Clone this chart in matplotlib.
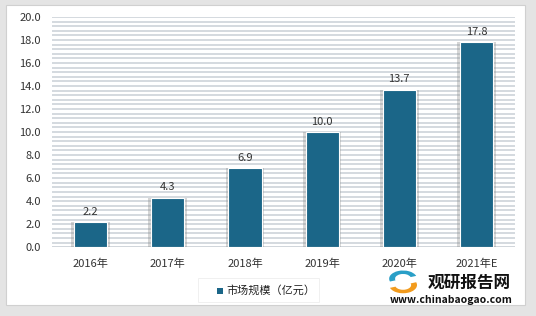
import matplotlib.pyplot as plt
import numpy as np
from matplotlib.patches import Rectangle, Wedge

plt.rcParams['font.family'] = ['Noto Sans CJK SC', 'DejaVu Sans']

years = ['2016年', '2017年', '2018年', '2019年', '2020年', '2021年E']
market_size = [2.2, 4.3, 6.9, 10.0, 13.7, 17.8]
yticks = [0, 2, 4, 6, 8, 10, 12, 14, 16, 18, 20]
series_name = '市场规模（亿元）'

bar_color = '#1b6688'

fig = plt.figure(figsize=(5.36, 3.16), dpi=100)

# outer frame with a soft gray border
fig.patches.append(Rectangle((0, 0), 1, 1, transform=fig.transFigure,
                             facecolor='#e4e4e4', edgecolor='none', zorder=-3))
fig.patches.append(Rectangle((0.012, 0.035), 0.968, 0.95, transform=fig.transFigure,
                             facecolor='white', edgecolor='#d0d0d0', lw=0.8, zorder=-2))

ax = fig.add_axes([0.097, 0.218, 0.864, 0.728])
x = np.arange(len(years))

# striped background
for yy in np.arange(0, 20.01, 0.4):
    ax.axhline(yy, color='#c9d0d6', lw=1.1, zorder=0)

# shadows then bars
ax.bar(x, market_size, width=0.5, color='#8a8a8a', alpha=0.35, zorder=1)
bars = ax.bar(x, market_size, width=0.43, color=bar_color, edgecolor='white',
              linewidth=0.8, zorder=2)

for xi, v in zip(x, market_size):
    ax.text(xi, v + 0.45, '%.1f' % v, ha='center', va='bottom', fontsize=8,
            color='#333333')

ax.set_xlim(-0.5, len(years) - 0.5)
ax.set_ylim(0, 20)
ax.set_yticks(yticks)
ax.set_yticklabels(['%.1f' % t for t in yticks], fontsize=8, color='#333333')
ax.set_xticks(x)
ax.set_xticklabels(years, fontsize=8, color='#333333')
ax.tick_params(length=0, pad=8)
ax.tick_params(axis='x', pad=8)
for s in ax.spines.values():
    s.set_visible(False)
ax.axhline(0, color='#9a9a9a', lw=0.8, zorder=3)

# legend box
fig.patches.append(Rectangle((0.37, 0.045), 0.225, 0.075, transform=fig.transFigure,
                             facecolor='white', edgecolor='#eeeeee', lw=0.6, zorder=1))
fig.patches.append(Rectangle((0.404, 0.07), 0.012, 0.02, transform=fig.transFigure,
                             facecolor=bar_color, edgecolor='none', zorder=2))
fig.text(0.422, 0.081, series_name, fontsize=8, color='#222222', va='center')

# watermark logo
fig.patches.append(Wedge((0.752, 0.118), 0.026, 20, 200, width=0.011,
                         transform=fig.transFigure, facecolor='#2a9fc7', zorder=3))
fig.patches.append(Wedge((0.752, 0.098), 0.026, 200, 380, width=0.011,
                         transform=fig.transFigure, facecolor='#f29b1d', zorder=3))
fig.text(0.875, 0.106, '观研报告网', fontsize=12, fontweight='bold', color='#111111',
         ha='center', va='center')
fig.text(0.842, 0.052, 'www.chinabaogao.com', fontsize=7.5, fontweight='bold',
         color='#111111', ha='center', va='center')

fig.savefig('out.png', dpi=100)
